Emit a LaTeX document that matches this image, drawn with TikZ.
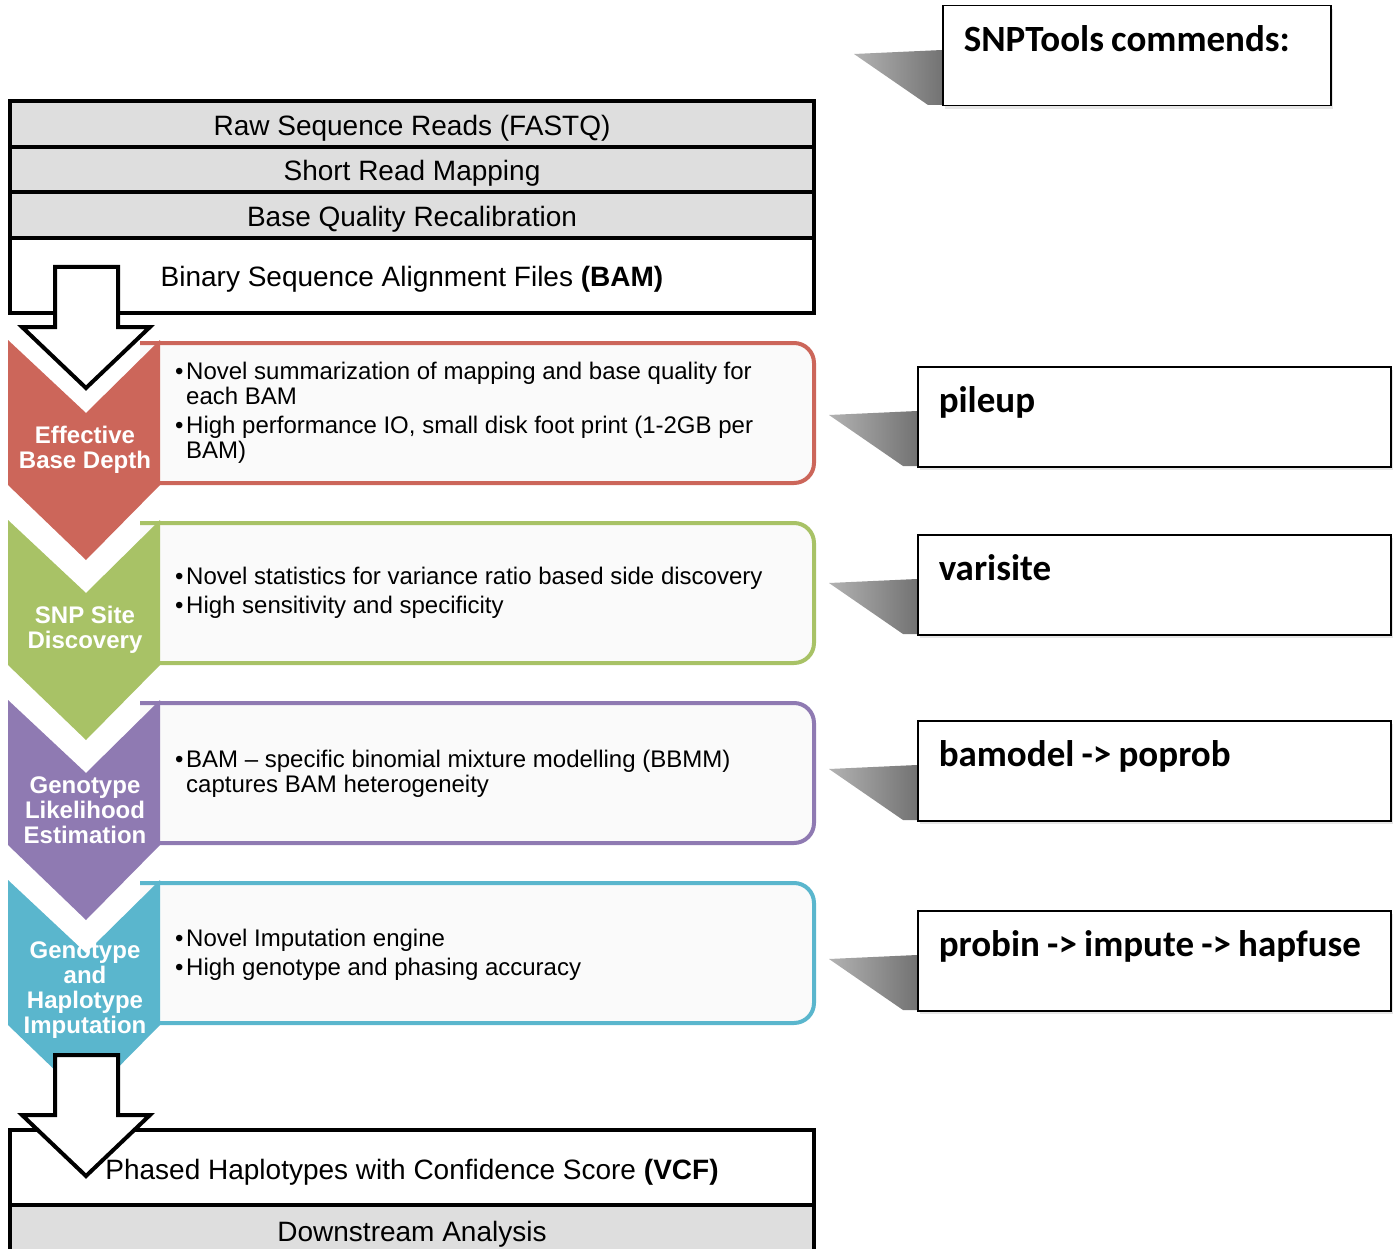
\documentclass[tikz,border=0pt]{standalone}
\usepackage{fontspec}
\setmainfont{Liberation Sans}
\newfontfamily\cmdfont{Carlito}
\usetikzlibrary{shadows}

\definecolor{stepred}{HTML}{CC665A}
\definecolor{stepgreen}{HTML}{A8C266}
\definecolor{steppurple}{HTML}{8F7AB2}
\definecolor{stepcyan}{HTML}{5AB6CD}
\definecolor{rowgray}{HTML}{DEDEDE}
\definecolor{boxfill}{HTML}{FAFAFA}

\newcommand{\bulletmark}{\makebox[11pt][l]{\textbullet}}
\newcommand{\contline}{\hspace*{11pt}}
\newcommand{\cmdspacing}{\spaceskip=7.2pt\relax}

\tikzset{
  grayrow/.style={draw, line width=4pt, fill=rowgray, minimum width=804pt, inner sep=0pt,
    text height=23pt, text depth=0pt, font=\fontsize{28}{30}\selectfont},
  whiterow/.style={grayrow, fill=white},
  hollow/.style={draw, line width=4pt, fill=white, line join=miter},
  steplabel/.style={text=white, font=\bfseries\fontsize{24}{25}\selectfont, align=center, inner sep=0pt},
  infotext/.style={anchor=west, align=left, inner sep=0pt, font=\fontsize{24}{25}\selectfont},
  cmdbox/.style={draw, line width=1.5pt, fill=white, anchor=north west, inner xsep=21pt, inner ysep=0pt,
    text width=#1, text height=46pt, text depth=54pt, align=left,
    drop shadow={opacity=0.2, shadow xshift=2pt, shadow yshift=-3pt},
    font=\cmdfont\bfseries\fontsize{37}{40}\selectfont, execute at begin node=\cmdspacing},
  cmdshadow/.style={left color=black!30, right color=black!55}
}

\begin{document}
\begin{tikzpicture}[x=1pt, y=-1pt]
    \useasboundingbox (0,0) rectangle (1397,1249);

    % input stack
    \node[grayrow, minimum height=46pt] (raw) at (412,124) {Raw Sequence Reads (FASTQ)};
    \node[grayrow, minimum height=45pt] (map) at (412,169.5) {Short Read Mapping};
    \node[grayrow, minimum height=46pt] (recal) at (412,215) {Base Quality Recalibration};
    \node[whiterow, minimum height=75pt] (bam) at (412,275.5) {Binary Sequence Alignment Files \textbf{(BAM)}};

    % chevron steps with their boxes
    \foreach \ty/\col/\name/\lbl in {340/stepred/depth/{Effective\\Base Depth},
        520/stepgreen/site/{SNP Site\\Discovery},
        700/steppurple/gle/{Genotype\\Likelihood\\Estimation},
        880/stepcyan/imp/{Genotype\\and\\Haplotype\\Imputation}}{
        \draw[\col, line width=4pt, fill=boxfill, rounded corners=20pt] (140,\ty+3) -- (814,\ty+3) -- (814,\ty+143) -- (140,\ty+143);
        \fill[\col] (8,\ty) -- (86,\ty+73) -- (160,\ty) -- (160,\ty+145) -- (86,\ty+220) -- (8,\ty+145) -- cycle;
        \node[steplabel] (\name) at (85,\ty+110) {\lbl};
    }

    \node[infotext] (depthtxt) at (175,413) {\bulletmark Novel summarization of mapping and base quality for\\\contline each BAM\\[4pt]\bulletmark High performance IO, small disk foot print (1-2GB per\\\contline BAM)};
    \node[infotext] (sitetxt) at (175,593) {\bulletmark Novel statistics for variance ratio based side discovery\\[4pt]\bulletmark High sensitivity and specificity};
    \node[infotext] (gletxt) at (175,774) {\bulletmark BAM -- specific binomial mixture modelling (BBMM)\\\contline captures BAM heterogeneity};
    \node[infotext] (imptxt) at (175,955) {\bulletmark Novel Imputation engine\\[4pt]\bulletmark High genotype and phasing accuracy};

    % output stack
    \node[whiterow, minimum height=75pt] (vcf) at (412,1167.5) {Phased Haplotypes with Confidence Score \textbf{(VCF)}};
    \node[grayrow, minimum height=50pt] (down) at (412,1230) {Downstream Analysis};

    % hollow arrows
    \foreach \ay in {267,1055}{
        \draw[hollow] (55,\ay) -- (118,\ay) -- (118,\ay+60) -- (150,\ay+60) -- (86,\ay+121) -- (22,\ay+60) -- (55,\ay+60) -- cycle;
    }

    % command boxes
    \foreach \bx/\by in {942/5, 917/366, 917/534, 917/720, 917/910}{
        \shade[cmdshadow] (\bx-88,\by+49) -- (\bx,\by+45) -- (\bx,\by+100) -- (\bx-14,\by+100) -- cycle;
    }
    \node[cmdbox=346pt] (title) at (942,5) {SNPTools commends:};
    \node[cmdbox=431pt] (pileup) at (917,366) {pileup};
    \node[cmdbox=431pt] (varisite) at (917,534) {varisite};
    \node[cmdbox=431pt] (bamodel) at (917,720) {bamodel -> poprob};
    \node[cmdbox=431pt] (probin) at (917,910) {\mbox{probin -> impute -> hapfuse}};
\end{tikzpicture}
\end{document}
